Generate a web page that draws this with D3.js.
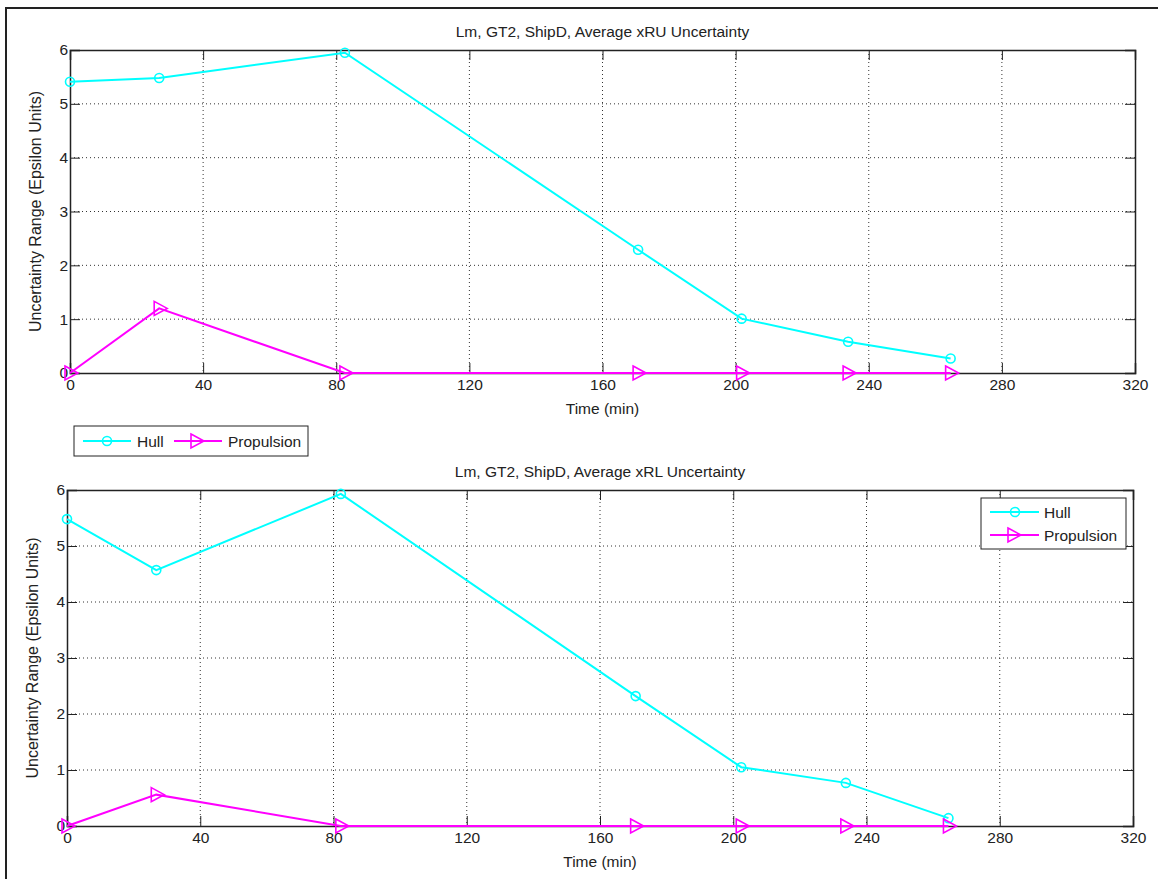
<!DOCTYPE html>
<html><head><meta charset="utf-8">
<script src="https://cdn.jsdelivr.net/npm/d3@7"></script>
<style>body{margin:0;background:#fff;} text{font-family:"Liberation Sans",Arial,sans-serif;fill:#222;}</style>
</head><body><svg id="c" width="1158" height="879"></svg>
<script>
const timesTop = [0, 26.8, 82.6, 170.7, 201.8, 233.8, 264.6];
const hullTop = [5.41, 5.48, 5.95, 2.29, 1.01, 0.58, 0.27];
const propTop = [0, 1.2, 0, 0, 0, 0, 0];
const timesBot = [0, 26.8, 82.2, 170.7, 202.4, 233.8, 264.6];
const hullBot = [5.48, 4.57, 5.93, 2.32, 1.05, 0.77, 0.14];
const propBot = [0, 0.56, 0, 0, 0, 0, 0];
const xTicks = [0, 40, 80, 120, 160, 200, 240, 280, 320];
const yTicks = [0, 1, 2, 3, 4, 5, 6];
const titles = ["Lm, GT2, ShipD, Average xRU Uncertainty", "Lm, GT2, ShipD, Average xRL Uncertainty"];
const seriesNames = ["Hull", "Propulsion"];
const colors = ["#00ffff", "#ff00ff"];

const svg = d3.select("#c");
svg.append("line").attr("x1",5).attr("x2",1158).attr("y1",8).attr("y2",8).attr("stroke","#222").attr("stroke-width",2);
svg.append("line").attr("x1",6).attr("x2",6).attr("y1",8).attr("y2",879).attr("stroke","#222").attr("stroke-width",2);

function tri(g, x, y, c){
  g.append("path").attr("d",`M${x-5},${y-7}L${x+8},${y}L${x-5},${y+7}Z`).attr("fill","none").attr("stroke",c).attr("stroke-width",1.6);
}
function circ(g,x,y,c){
  g.append("circle").attr("cx",x).attr("cy",y).attr("r",4.5).attr("fill","none").attr("stroke",c).attr("stroke-width",1.6);
}

function panel(cfg){
  const {x0,x1,y0,y1,times,hull,prop,title} = cfg;
  const x = d3.scaleLinear().domain([0,320]).range([x0,x1]);
  const y = d3.scaleLinear().domain([0,6]).range([y0,y1]);
  const g = svg.append("g");
  // grid
  g.append("g").selectAll("line").data(xTicks.slice(1,-1)).join("line")
    .attr("x1",d=>x(d)).attr("x2",d=>x(d)).attr("y1",y1).attr("y2",y0)
    .attr("stroke","#333").attr("stroke-width",1).attr("stroke-dasharray","1,3");
  g.append("g").selectAll("line").data(yTicks.slice(1,-1)).join("line")
    .attr("x1",x0).attr("x2",x1).attr("y1",d=>y(d)).attr("y2",d=>y(d))
    .attr("stroke","#333").attr("stroke-width",1).attr("stroke-dasharray","1,3");
  // axes
  const ax = g.append("g").attr("transform",`translate(0,${y0})`).call(d3.axisBottom(x).tickValues(xTicks).tickSize(-10).tickPadding(5).tickFormat(d3.format("d")));
  const axT = g.append("g").attr("transform",`translate(0,${y1})`).call(d3.axisTop(x).tickValues(xTicks).tickSize(-10).tickFormat(""));
  const ay = g.append("g").attr("transform",`translate(${x0},0)`).call(d3.axisLeft(y).tickValues(yTicks).tickSize(-10).tickPadding(2).tickFormat(d3.format("d")));
  const ayR = g.append("g").attr("transform",`translate(${x1},0)`).call(d3.axisRight(y).tickValues(yTicks).tickSize(-10).tickFormat(""));
  [ax,axT,ay,ayR].forEach(a=>{a.selectAll("path.domain").attr("stroke","#222").attr("stroke-width",1.5);
    a.selectAll(".tick line").attr("stroke","#222");
    a.selectAll("text").style("font-size","15.5px").attr("fill","#222").style("font-family","Liberation Sans, Arial, sans-serif");});
  ax.selectAll(".tick text").attr("dy","0.8em");
  // labels
  g.append("text").attr("x",(x0+x1)/2).attr("y",y1-13).attr("text-anchor","middle").style("font-size","15.5px").text(title);
  g.append("text").attr("x",(x0+x1)/2).attr("y",y0+41).attr("text-anchor","middle").style("font-size","15.5px").text("Time (min)");
  g.append("text").attr("transform",`translate(${x0-29},${(y0+y1)/2}) rotate(-90)`).attr("text-anchor","middle").style("font-size","16px").text("Uncertainty Range (Epsilon Units)");
  // lines
  const line = d3.line().x(d=>x(d[0])).y(d=>y(d[1]));
  const hp = times.map((t,i)=>[t,hull[i]]), pp = times.map((t,i)=>[t,prop[i]]);
  g.append("path").attr("d",line(hp)).attr("fill","none").attr("stroke",colors[0]).attr("stroke-width",2);
  hp.forEach(d=>circ(g,x(d[0]),y(d[1]),colors[0]));
  g.append("path").attr("d",line(pp)).attr("fill","none").attr("stroke",colors[1]).attr("stroke-width",2);
  pp.forEach(d=>tri(g,x(d[0]),y(d[1]),colors[1]));
  return g;
}

panel({x0:70,x1:1135,y0:373,y1:50,times:timesTop,hull:hullTop,prop:propTop,title:titles[0]});
panel({x0:67,x1:1133,y0:826,y1:490,times:timesBot,hull:hullBot,prop:propBot,title:titles[1]});

// legend top (horizontal)
{
  const g = svg.append("g");
  g.append("rect").attr("x",74).attr("y",426).attr("width",234).attr("height",30).attr("fill","#fff").attr("stroke","#222").attr("stroke-width",1);
  g.append("line").attr("x1",83).attr("x2",131).attr("y1",441).attr("y2",441).attr("stroke",colors[0]).attr("stroke-width",2);
  circ(g,107,441,colors[0]);
  g.append("text").attr("x",137).attr("y",447).style("font-size","15.5px").text(seriesNames[0]);
  g.append("line").attr("x1",174).attr("x2",222).attr("y1",441).attr("y2",441).attr("stroke",colors[1]).attr("stroke-width",2);
  tri(g,196,441,colors[1]);
  g.append("text").attr("x",228).attr("y",447).style("font-size","15.5px").text(seriesNames[1]);
}
// legend bottom (vertical)
{
  const g = svg.append("g");
  g.append("rect").attr("x",981).attr("y",498).attr("width",145).attr("height",51).attr("fill","#fff").attr("stroke","#222").attr("stroke-width",1);
  g.append("line").attr("x1",990).attr("x2",1039).attr("y1",512).attr("y2",512).attr("stroke",colors[0]).attr("stroke-width",2);
  circ(g,1015,512,colors[0]);
  g.append("text").attr("x",1044).attr("y",518).style("font-size","15.5px").text(seriesNames[0]);
  g.append("line").attr("x1",990).attr("x2",1039).attr("y1",535).attr("y2",535).attr("stroke",colors[1]).attr("stroke-width",2);
  tri(g,1013,535,colors[1]);
  g.append("text").attr("x",1044).attr("y",541).style("font-size","15.5px").text(seriesNames[1]);
}
</script></body></html>
